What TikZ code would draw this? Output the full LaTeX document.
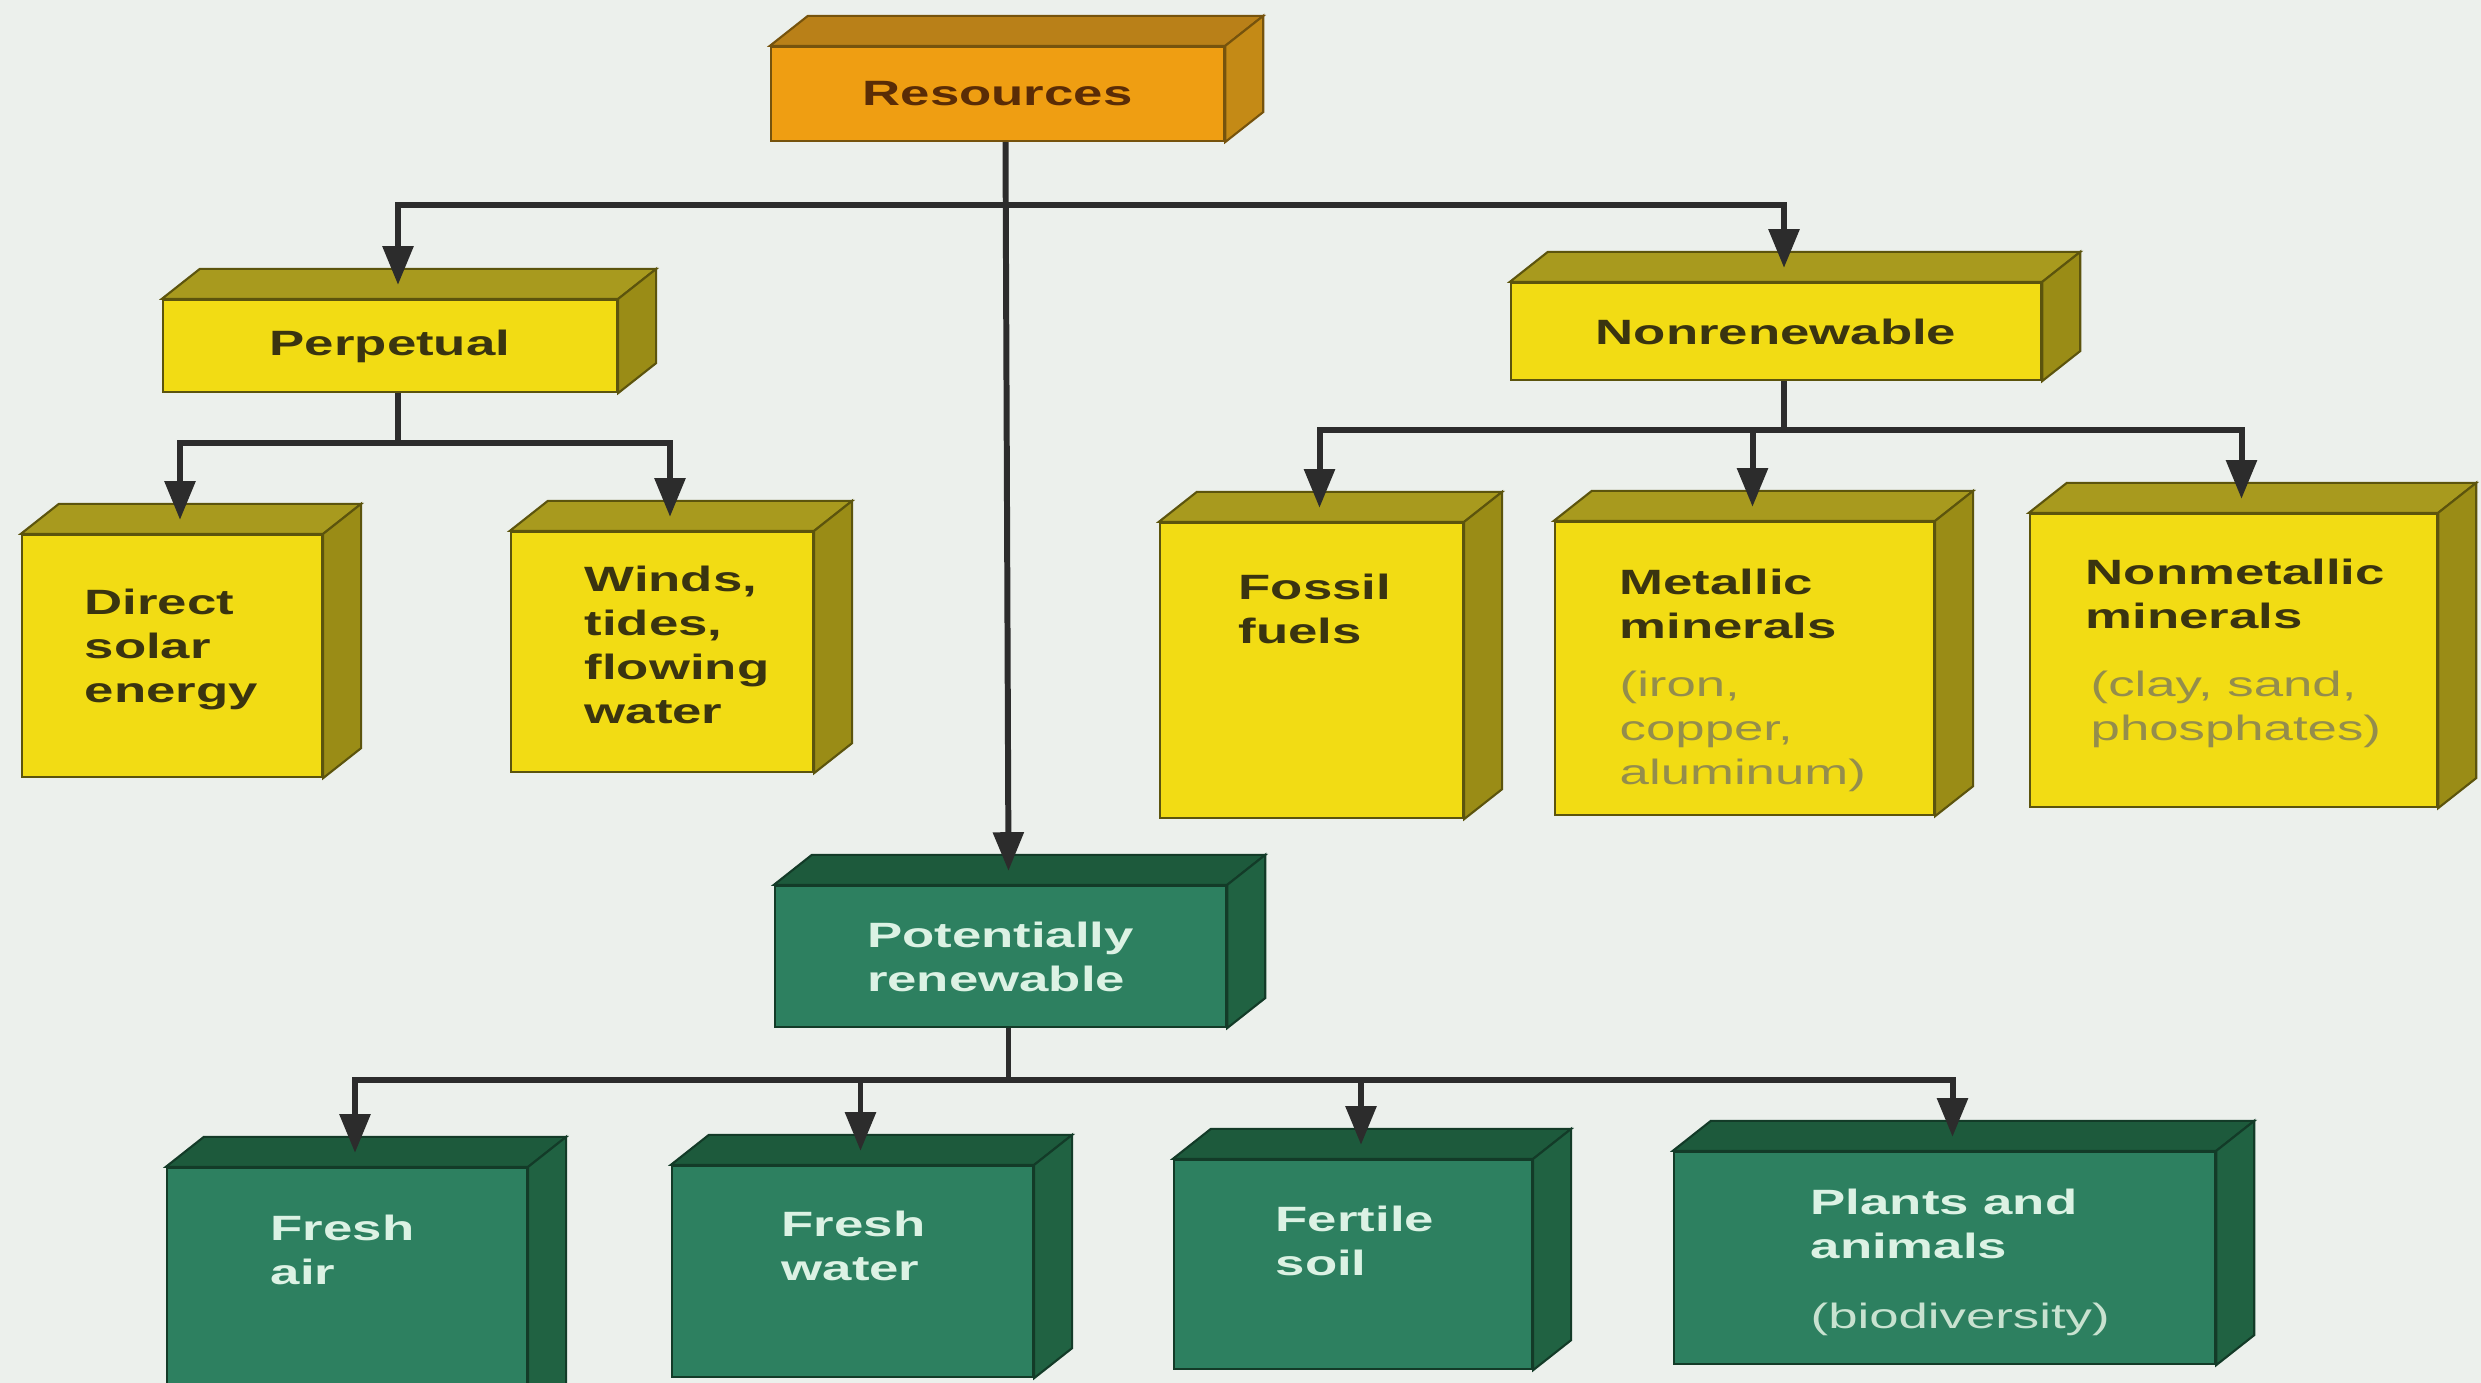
\documentclass[tikz,border=0pt]{standalone}
\usepackage{fontspec}
\newfontfamily\boxfont{Liberation Sans}[FakeStretch=1.5]
\usetikzlibrary{arrows.meta}

\definecolor{bgc}{HTML}{ECF0EC}
\definecolor{yfront}{HTML}{F2DC14}
\definecolor{ytop}{HTML}{A89A1E}
\definecolor{yside}{HTML}{9A8C16}
\definecolor{ofront}{HTML}{EF9E12}
\definecolor{otop}{HTML}{B98018}
\definecolor{oside}{HTML}{C48A16}
\definecolor{gfront}{HTML}{2D8060}
\definecolor{gtop}{HTML}{1D5A3C}
\definecolor{gside}{HTML}{206242}
\definecolor{ytext}{HTML}{3A3410}
\definecolor{ynote}{HTML}{948D4C}
\definecolor{otext}{HTML}{5A2C06}
\definecolor{gtext}{HTML}{DCF2E4}
\definecolor{gnote}{HTML}{C8E2D0}
\definecolor{linec}{HTML}{2C2C2C}

\begin{document}
\begin{tikzpicture}[x=0.01cm,y=-0.01cm,
    obox/.style={fill=ofront, draw=oside!60!black, line width=0.6pt, inner sep=0pt},
    ybox/.style={fill=yfront, draw=yside!60!black, line width=0.6pt, inner sep=0pt},
    gbox/.style={fill=gfront, draw=gside!60!black, line width=0.6pt, inner sep=0pt},
    txt/.style={font=\boxfont\fontsize{10}{12.5}\selectfont\bfseries, align=left, inner sep=0pt},
    ytxt/.style={txt, text=ytext, anchor=north west},
    gtxt/.style={txt, text=gtext, anchor=north west},
    note/.style={txt, font=\boxfont\fontsize{10}{12.5}\selectfont, anchor=north west},
    wire/.style={draw=linec, line width=1.7pt},
    toarr/.style={wire, -{Triangle[width=8.5pt,length=11pt]}},
    botharr/.style={wire, {Triangle[width=8.5pt,length=11pt]}-{Triangle[width=8.5pt,length=11pt]}}]

  \useasboundingbox (0,0) rectangle (2481,1383);
  \fill[bgc] (0,0) rectangle (2481,1383);
  \clip (0,0) rectangle (2481,1383);

  % front faces
  \node[obox, minimum width=4.53cm, minimum height=0.94cm] (res) at (997.5,94) {};
  \node[ybox, minimum width=4.54cm, minimum height=0.92cm] (perp) at (390,346) {};
  \node[ybox, minimum width=5.30cm, minimum height=0.97cm] (nonren) at (1776,331.5) {};
  \node[ybox, minimum width=3.00cm, minimum height=2.42cm] (solar) at (172,656) {};
  \node[ybox, minimum width=3.02cm, minimum height=2.40cm] (winds) at (662,652) {};
  \node[ybox, minimum width=3.03cm, minimum height=2.95cm] (fossil) at (1311.5,670.5) {};
  \node[ybox, minimum width=3.79cm, minimum height=2.93cm] (metal) at (1744.5,668.5) {};
  \node[ybox, minimum width=4.07cm, minimum height=2.93cm] (nonmet) at (2233.5,660.5) {};
  \node[gbox, minimum width=4.51cm, minimum height=1.41cm] (pot) at (1000.5,956.5) {};
  \node[gbox, minimum width=3.60cm, minimum height=2.52cm] (air) at (347,1294) {};
  \node[gbox, minimum width=3.61cm, minimum height=2.11cm] (water) at (852.5,1271.5) {};
  \node[gbox, minimum width=3.58cm, minimum height=2.09cm] (soil) at (1353,1264.5) {};
  \node[gbox, minimum width=5.41cm, minimum height=2.12cm] (plants) at (1944.5,1258) {};

  % top and side faces
  \foreach \n/\t/\s in {res/otop/oside, perp/ytop/yside, nonren/ytop/yside,
      solar/ytop/yside, winds/ytop/yside, fossil/ytop/yside, metal/ytop/yside,
      nonmet/ytop/yside, pot/gtop/gside, air/gtop/gside, water/gtop/gside,
      soil/gtop/gside, plants/gtop/gside} {
    \filldraw[fill=\t, draw=\s!60!black, line width=0.6pt] (\n.north west) -- ++(38,-30)
      -- ([shift={(38,-30)}]\n.north east) -- (\n.north east) -- cycle;
    \filldraw[fill=\s, draw=\s!60!black, line width=0.6pt] (\n.north east) -- ++(38,-30)
      -- ([shift={(38,-30)}]\n.south east) -- (\n.south east) -- cycle;
  }

  % labels
  \node[txt, text=otext] (res-t) at (res) {Resources};
  \node[txt, text=ytext] (perp-t) at (perp) {Perpetual};
  \node[txt, text=ytext] (nonren-t) at (nonren) {Nonrenewable};
  \node[txt, text=gtext] (pot-t) at (pot) {Potentially\\renewable};
  \node[ytxt] (solar-t) at (84,588) {Direct\\solar\\energy};
  \node[ytxt] (winds-t) at (584,565) {Winds,\\tides,\\flowing\\water};
  \node[ytxt] (fossil-t) at (1238,573) {Fossil\\fuels};
  \node[ytxt] (metal-t) at (1619,568) {Metallic\\minerals};
  \node[note, text=ynote] (metal-n) at (1619,670) {(iron,\\copper,\\aluminum)};
  \node[ytxt] (nonmet-t) at (2085,558) {Nonmetallic\\minerals};
  \node[note, text=ynote] (nonmet-n) at (2090,670) {(clay, sand,\\phosphates)};
  \node[gtxt] (air-t) at (270,1214) {Fresh\\air};
  \node[gtxt] (water-t) at (781,1210) {Fresh\\water};
  \node[gtxt] (soil-t) at (1275,1205) {Fertile\\soil};
  \node[gtxt] (plants-t) at (1810,1188) {Plants and\\animals};
  \node[note, text=gnote] (plants-n) at (1810,1302) {(biodiversity)};

  % connectors
  \foreach \n in {res,perp,nonren,pot}
    \coordinate (\n-bot) at ([shift={(8,0)}]\n.south);
  \foreach \n in {perp,nonren,solar,winds,fossil,metal,nonmet,pot,air,water,soil,plants}
    \coordinate (\n-top) at ([shift={(8,-14)}]\n.north);
  \coordinate (bar1) at (0,205);
  \coordinate (bar2) at (0,443);
  \coordinate (bar3) at (0,430);
  \coordinate (bar4) at (0,1080);

  \draw[toarr] (res-bot) -- (pot-top);
  \draw[botharr] (perp-top) |- (bar1 -| res-bot) -| (nonren-top);
  \draw[wire] (perp-bot) -- (bar2 -| perp-bot);
  \draw[botharr] (solar-top) |- (bar2 -| perp-bot) -| (winds-top);
  \draw[wire] (nonren-bot) -- (bar3 -| nonren-bot);
  \draw[botharr] (fossil-top) |- (bar3 -| nonren-bot) -| (nonmet-top);
  \draw[toarr] (bar3 -| metal-top) -- (metal-top);
  \draw[wire] (pot-bot) -- (bar4 -| pot-bot);
  \draw[botharr] (air-top) |- (bar4 -| pot-bot) -| (plants-top);
  \draw[toarr] (bar4 -| water-top) -- (water-top);
  \draw[toarr] (bar4 -| soil-top) -- (soil-top);
\end{tikzpicture}
\end{document}
